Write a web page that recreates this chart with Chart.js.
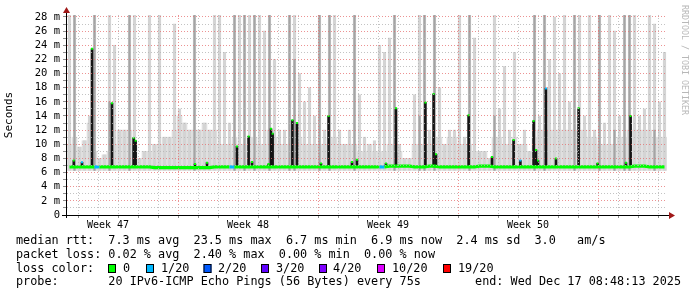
<!DOCTYPE html>
<html>
<head>
<meta charset="utf-8">
<script src="https://cdn.jsdelivr.net/npm/chart.js@4.4.1/dist/chart.umd.min.js"></script>
<style>
html, body { margin: 0; padding: 0; background: #fff; }
canvas { display: block; }
</style>
</head>
<body>
<canvas id="smokeChart" width="697" height="297"></canvas>
<script>
// x is in days from the left edge of the plot, one smoke bin = 6 hours
var binDays = 0.25;

// highest smoke per bin (ms), drawn as thin columns
var smokeTop = [
  29, 29, 9.6, 10.5, 14, 29, 8, 8.5, 29, 24,
  12, 12, 29, 29, 8, 9, 29, 10, 29, 11,
  11, 27, 15, 13, 12, 29, 12, 13, 12, 29,
  29, 23, 13, 29, 29, 29, 29, 29, 29, 26,
  29, 22, 12, 12, 29, 29, 20, 16, 18, 14,
  29, 12, 29, 29, 12, 10, 12, 29, 17, 11,
  10, 10.5, 24, 23, 25, 29, 10, 8, 8, 17,
  29, 29, 12, 29, 18, 10, 12, 12, 29, 11,
  29, 25, 9, 9, 8, 29, 15, 21, 12, 23,
  10, 12, 9, 29, 14, 29, 22, 28, 20, 29,
  16, 29, 29, 14, 29, 12, 29, 13, 29, 26,
  14, 29, 29, 29, 14, 15, 29, 27, 16, 23
];

// continuous low smoke per bin (ms)
var smokeFloor = [
  10, 11, 9.6, 10.5, 13, 9, 8, 8.5, 9, 10,
  12, 12, 12, 10, 8, 9, 9, 10, 10, 11,
  11, 12, 14, 13, 12, 12, 12, 13, 12, 12,
  10, 10, 10, 11, 10, 10, 11, 11, 10, 10,
  12, 11, 10, 10, 10, 11, 11, 10, 10, 10,
  10, 10, 11, 11, 10, 10, 10, 10, 9, 9,
  10, 9, 9, 9, 10, 10, 9, 8, 8, 10,
  10, 10, 10, 11, 11, 10, 11, 11, 10, 10,
  10, 9, 9, 9, 8, 11, 11, 10, 10, 11,
  10, 10, 9, 11, 12, 12, 12, 12, 12, 12,
  12, 12, 12, 12, 11, 11, 10, 10, 10, 10,
  11, 11, 12, 12, 12, 12, 12, 11, 11, 11
];

// darker smoke lines per bin (ms), null where there is none
var smokeDark = [
  null, 29, null, null, null, 29, null, null, 16, null,
  null, null, 29, null, null, null, null, null, null, null,
  null, null, null, null, null, 29, null, null, null, null,
  null, null, null, 29, null, 29, null, 29, null, null,
  29, null, null, null, 29, 22, null, null, null, null,
  29, null, 29, null, null, null, null, 29, null, null,
  null, null, null, null, null, 29, null, null, null, null,
  14, 29, null, 29, null, null, null, null, null, null,
  29, null, null, null, null, 14, null, null, null, null,
  null, null, null, 29, null, 29, null, null, null, null,
  null, 29, null, null, null, null, 29, null, null, 12,
  null, 29, 29, null, null, null, null, 12, null, null
];

// median rtt per bin (ms) and its loss class (0 = 0/20, 1 = 1/20)
var medianRtt = [
  6.8, 6.8, 6.8, 6.8, 6.8, 6.8, 6.8, 6.8, 6.8, 6.8,
  6.8, 6.8, 6.8, 6.8, 6.8, 6.8, 6.8, 6.7, 6.7, 6.7,
  6.7, 6.7, 6.7, 6.7, 6.7, 6.7, 6.7, 6.7, 6.7, 6.8,
  6.8, 6.8, 6.8, 6.8, 6.8, 6.8, 6.8, 6.8, 6.8, 6.8,
  6.8, 6.8, 6.8, 6.8, 6.8, 6.8, 6.8, 6.8, 6.8, 6.8,
  6.8, 6.8, 6.8, 6.8, 6.8, 6.8, 6.8, 6.8, 6.8, 6.8,
  6.8, 6.8, 6.8, 6.8, 6.9, 6.9, 6.9, 6.9, 6.9, 6.8,
  6.8, 6.8, 6.9, 6.9, 6.8, 6.8, 6.8, 6.8, 6.8, 6.8,
  6.8, 6.8, 6.9, 6.9, 6.9, 6.8, 6.8, 6.8, 6.8, 6.8,
  6.8, 6.8, 6.8, 6.8, 6.8, 6.8, 6.8, 6.8, 6.8, 6.8,
  6.8, 6.8, 6.8, 6.8, 6.8, 6.8, 6.8, 6.8, 6.8, 6.8,
  6.8, 6.8, 6.8, 6.9, 6.9, 6.9, 6.8, 6.8, 6.8, 6.8
];
var medianLoss = [
  0, 0, 0, 0, 0, 1, 0, 0, 0, 0,  0, 0, 0, 0, 0, 0, 0, 0, 0, 0,
  0, 0, 0, 0, 0, 0, 0, 0, 0, 0,  0, 0, 1, 0, 0, 0, 0, 0, 0, 0,
  0, 0, 0, 0, 0, 0, 0, 0, 0, 0,  0, 0, 0, 0, 0, 0, 0, 0, 0, 0,
  0, 0, 1, 0, 0, 0, 0, 0, 0, 0,  0, 0, 0, 0, 0, 0, 0, 0, 0, 0,
  0, 0, 0, 0, 0, 0, 0, 0, 0, 0,  0, 0, 0, 0, 0, 0, 0, 0, 0, 0,
  0, 0, 0, 0, 0, 0, 0, 0, 0, 0,  0, 0, 0, 0, 0, 0, 0, 0, 0, 0
];

// short periods where the median jumped up
var spikeX = [0.34, 0.75, 1.25, 2.25, 3.33, 3.43, 6.4, 7.0, 8.5, 9.08,
              9.25, 10.08, 10.2, 10.28, 11.27, 11.5, 12.7, 13.08, 14.25, 14.5,
              15.95, 16.45, 17.92, 18.33, 18.45, 20.08, 21.25, 22.33, 22.67, 23.33,
              23.45, 23.55, 23.95, 24.45, 25.58, 26.53, 27.95, 28.18];
var spikeTop = [7.7, 7.45, 23.5, 15.8, 10.9, 10.5, 7.2, 7.4, 9.7, 11.1,
                7.5, 7.2, 12.2, 11.5, 13.4, 13.0, 7.3, 14.0, 7.5, 7.8,
                7.3, 15.1, 15.9, 17.1, 8.6, 14.1, 8.2, 10.6, 7.7, 13.3,
                9.2, 7.7, 17.9, 8.0, 15.1, 7.3, 7.4, 14.0];
var spikeLoss = [0, 1, 0, 0, 0, 0, 0, 0, 0, 0,
                 0, 0, 0, 0, 0, 0, 0, 0, 0, 0,
                 0, 0, 0, 0, 0, 0, 0, 0, 1, 0,
                 0, 0, 1, 0, 0, 0, 0, 0];

// axes
var yTicks = [0, 1, 2, 3, 4, 5, 6, 7, 8, 9, 10, 11, 12, 13, 14, 15, 16, 17, 18, 19, 20, 21, 22, 23, 24, 25, 26, 27, 28];
var weekLines = [5.55, 12.55, 19.55, 26.55];
var weekLabelX = [2.05, 9.05, 16.05, 23.05];
var weekLabels = ['Week 47', 'Week 48', 'Week 49', 'Week 50'];
var dayLines = [];
for (var d = 0.55; d < 30; d += 1) dayLines.push(Math.round(d * 100) / 100);

// legend
var lossLabels = ['0', '1/20', '2/20', '3/20', '4/20', '10/20', '19/20'];
var lossColors = ['#00ff00', '#00b8ff', '#0059ff', '#5e00ff', '#7e00ff', '#dd00ff', '#ff0000'];
var legendRows = [
  'median rtt:  7.3 ms avg  23.5 ms max  6.7 ms min  6.9 ms now  2.4 ms sd  3.0   am/s',
  'packet loss: 0.02 % avg  2.40 % max  0.00 % min  0.00 % now',
  'loss color:',
  'probe:       20 IPv6-ICMP Echo Pings (56 Bytes) every 75s'
];
var endText = 'end: Wed Dec 17 08:48:13 2025';
var creditText = 'RRDTOOL / TOBI OETIKER';

var MONO = '"DejaVu Sans Mono", "Liberation Mono", monospace';
var smokeBase = 6.3;
var spikeBase = 6.8;

var tallData = [], floorData = [], darkData = [], medianData = [];
for (var i = 0; i < smokeTop.length; i++) {
  var x = (i + 0.5) * binDays;
  tallData.push({x: x, y: [smokeBase, smokeTop[i]]});
  floorData.push({x: x, y: [smokeBase, smokeFloor[i]]});
  if (smokeDark[i] !== null) darkData.push({x: x, y: [smokeBase, smokeDark[i]]});
  medianData.push({x: x, y: medianRtt[i]});
}
var spikeBars = [], spikeDots = [], spikeDotColors = [];
for (var i = 0; i < spikeX.length; i++) {
  spikeBars.push({x: spikeX[i], y: [spikeBase, spikeTop[i]]});
  spikeDots.push({x: spikeX[i], y: spikeTop[i]});
  spikeDotColors.push(lossColors[spikeLoss[i]]);
}

var rrdDecor = {
  id: 'rrdDecor',
  beforeDraw: function(chart) {
    var ctx = chart.ctx;
    ctx.save();
    ctx.fillStyle = '#fff';
    ctx.fillRect(0, 0, chart.width, chart.height);
    ctx.restore();
  },
  afterDraw: function(chart) {
    var ctx = chart.ctx;
    var a = chart.chartArea;
    ctx.save();
    // axes
    ctx.strokeStyle = '#000';
    ctx.lineWidth = 1;
    ctx.beginPath();
    ctx.moveTo(62, a.bottom + 0.5);
    ctx.lineTo(670, a.bottom + 0.5);
    ctx.moveTo(a.left - 0.5, a.bottom + 3);
    ctx.lineTo(a.left - 0.5, 11);
    ctx.stroke();
    ctx.fillStyle = '#a01818';
    ctx.beginPath();
    ctx.moveTo(669, a.bottom - 3);
    ctx.lineTo(675, a.bottom + 0.5);
    ctx.lineTo(669, a.bottom + 4);
    ctx.closePath();
    ctx.fill();
    ctx.beginPath();
    ctx.moveTo(a.left - 4, 13);
    ctx.lineTo(a.left - 0.5, 7);
    ctx.lineTo(a.left + 3, 13);
    ctx.closePath();
    ctx.fill();

    // credit
    ctx.save();
    ctx.translate(684, 5);
    ctx.rotate(Math.PI / 2);
    ctx.font = '8.3px ' + MONO;
    ctx.fillStyle = '#b8b8b8';
    ctx.textBaseline = 'middle';
    ctx.fillText(creditText, 0, 0);
    ctx.restore();

    // legend
    var rowY = [241, 255, 268.5, 282];
    ctx.font = '11.8px ' + MONO;
    ctx.fillStyle = '#000';
    ctx.textBaseline = 'middle';
    for (var r = 0; r < legendRows.length; r++) {
      ctx.fillText(legendRows[r], 16, rowY[r]);
    }
    ctx.textAlign = 'right';
    ctx.fillText(endText, 681, rowY[3]);
    ctx.textAlign = 'left';
    var boxX = [108, 146, 203.5, 261, 319, 377, 443];
    var labX = [123, 161, 218, 276, 333, 392, 458];
    for (var k = 0; k < lossLabels.length; k++) {
      ctx.fillStyle = lossColors[k];
      ctx.fillRect(boxX[k], rowY[2] - 4.5, 8, 9);
      ctx.strokeStyle = '#000';
      ctx.strokeRect(boxX[k] + 0.5, rowY[2] - 4, 7, 8);
      ctx.fillStyle = '#000';
      ctx.fillText(lossLabels[k], labX[k], rowY[2]);
    }
    ctx.restore();
  }
};

var chart = new Chart(document.getElementById('smokeChart').getContext('2d'), {
  type: 'bar',
  data: {
    datasets: [
      {
        type: 'line',
        label: 'loss dots',
        data: spikeDots,
        showLine: false,
        pointStyle: 'rect',
        pointRadius: 1.4,
        pointBorderWidth: 0,
        pointBackgroundColor: spikeDotColors,
        order: 1
      },
      {
        type: 'line',
        label: 'median rtt',
        data: medianData,
        borderColor: lossColors[0],
        borderWidth: 3.2,
        pointRadius: 0,
        tension: 0,
        segment: {
          borderColor: function(c) { return lossColors[medianLoss[c.p0DataIndex]]; }
        },
        order: 2
      },
      {
        label: 'spikes',
        data: spikeBars,
        backgroundColor: '#141414',
        barThickness: 2,
        grouped: false,
        order: 3
      },
      {
        label: 'dark smoke',
        data: darkData,
        backgroundColor: '#a4a4a4',
        barThickness: 1.5,
        grouped: false,
        order: 4
      },
      {
        label: 'smoke',
        data: tallData,
        backgroundColor: '#d4d4d4',
        barThickness: 2.5,
        grouped: false,
        order: 5
      },
      {
        label: 'low smoke',
        data: floorData,
        backgroundColor: '#e0e0e0',
        barThickness: 5,
        grouped: false,
        order: 6
      }
    ]
  },
  options: {
    responsive: false,
    animation: false,
    devicePixelRatio: 1,
    layout: { padding: { top: 15, right: 30, bottom: 66, left: 0 } },
    plugins: { legend: { display: false }, tooltip: { enabled: false } },
    scales: {
      x: {
        type: 'linear',
        min: 0,
        max: 30,
        offset: false,
        afterBuildTicks: function(s) {
          s.ticks = dayLines.concat(weekLabelX).map(function(v) { return {value: v}; });
        },
        afterFit: function(s) { s.height = 16; },
        grid: {
          offset: false,
          z: 1,
          tickLength: 3,
          color: function(c) {
            var v = c.tick ? c.tick.value : null;
            if (weekLabelX.indexOf(v) >= 0) return 'rgba(0,0,0,0)';
            if (weekLines.indexOf(v) >= 0) return 'rgba(230,110,110,0.75)';
            return 'rgba(180,180,180,0.8)';
          },
          tickColor: function(c) {
            var v = c.tick ? c.tick.value : null;
            if (weekLabelX.indexOf(v) >= 0) return 'rgba(0,0,0,0)';
            return 'rgba(130,130,130,0.9)';
          },
          tickBorderDash: []
        },
        border: { display: false, dash: [1, 2] },
        ticks: {
          autoSkip: false,
          maxRotation: 0,
          padding: 1,
          color: '#000',
          font: { family: MONO, size: 10 },
          callback: function(v) {
            var k = weekLabelX.indexOf(v);
            return k >= 0 ? weekLabels[k] : '';
          }
        }
      },
      y: {
        type: 'linear',
        min: 0,
        max: 28.28,
        afterBuildTicks: function(s) {
          s.ticks = yTicks.map(function(v) { return {value: v}; });
        },
        afterFit: function(s) { s.width = 67; },
        grid: {
          z: 1,
          tickLength: 4,
          color: function(c) {
            var v = c.tick ? c.tick.value : 0;
            if (v === 0) return 'rgba(0,0,0,0)';
            return v % 2 === 0 ? 'rgba(230,110,110,0.75)' : 'rgba(180,180,180,0.8)';
          },
          tickColor: 'rgba(130,130,130,0.9)',
          tickBorderDash: []
        },
        border: { display: false, dash: [1, 2] },
        title: {
          display: true,
          text: 'Seconds',
          color: '#000',
          font: { family: MONO, size: 11 },
          padding: { top: 3, bottom: 0 }
        },
        ticks: {
          autoSkip: false,
          padding: 3,
          color: '#000',
          font: { family: MONO, size: 10.5 },
          callback: function(v) {
            if (v === 0) return '0';
            return v % 2 === 0 ? v + ' m' : '';
          }
        }
      }
    }
  },
  plugins: [rrdDecor]
});
</script>
</body>
</html>
